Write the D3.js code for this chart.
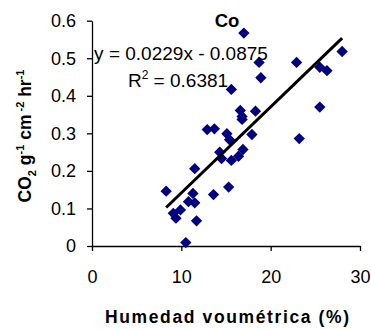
<!DOCTYPE html>
<html>
<head>
<meta charset="utf-8">
<script src="https://cdn.jsdelivr.net/npm/d3@7"></script>
<style>
  body { margin: 0; background: #fff; }
  text { font-family: Arial, "Liberation Sans", sans-serif; }
</style>
</head>
<body>
<div id="chart"></div>
<script>
// soil moisture (%) and CO2 flux
const humedad = [8.3, 9.1, 9.4, 9.9, 10.5, 10.8, 11.3, 11.5, 11.5, 11.7,
  12.9, 13.6, 13.7, 14.3, 14.5, 15.1, 15.3, 15.4, 15.6, 15.6,
  16.4, 16.6, 16.8, 16.8, 16.9, 17.0, 17.9, 18.3, 18.7, 18.9,
  22.9, 23.2, 25.5, 25.5, 26.3, 28.0];
const co2 = [0.146, 0.087, 0.074, 0.096, 0.009, 0.118, 0.140, 0.115, 0.206, 0.067,
  0.310, 0.137, 0.312, 0.250, 0.233, 0.299, 0.157, 0.283, 0.417, 0.228,
  0.239, 0.361, 0.345, 0.337, 0.257, 0.567, 0.297, 0.359, 0.489, 0.448,
  0.489, 0.286, 0.476, 0.370, 0.467, 0.518];
const xTicks = [0, 10, 20, 30];
const yTicks = [0, 0.1, 0.2, 0.3, 0.4, 0.5, 0.6];
// linear fit shown on the chart
const slope = 0.0229;
const intercept = -0.0875;

const width = 371, height = 329;

const svg = d3.select("#chart").append("svg")
  .attr("width", width)
  .attr("height", height)
  .style("background", "#fff");

const x = d3.scaleLinear().domain([0, 30]).range([92, 360]);
const y = d3.scaleLinear().domain([0, 0.6]).range([246, 20.7]);

// x axis
const xAxis = svg.append("g")
  .attr("transform", `translate(0,${y(0)})`)
  .call(d3.axisBottom(x).tickValues(xTicks).tickSize(5).tickPadding(19).tickSizeOuter(0));
// y axis
const yAxis = svg.append("g")
  .attr("transform", `translate(${x(0)},0)`)
  .call(d3.axisLeft(y).tickValues(yTicks).tickSize(5).tickPadding(11).tickSizeOuter(0)
    .tickFormat(d => d === 0 ? "0" : d3.format(".1f")(d)));

[xAxis, yAxis].forEach(g => {
  g.select(".domain").attr("stroke", "#000").attr("stroke-width", 1.3);
  g.selectAll(".tick line").attr("stroke", "#000").attr("stroke-width", 1.3);
  g.selectAll(".tick text").attr("font-size", 18).attr("fill", "#000")
    .attr("font-family", "Arial, 'Liberation Sans', sans-serif");
});

// points
const pts = humedad.map((h, i) => ({h: h, c: co2[i]}));
svg.append("g").selectAll("path")
  .data(pts)
  .enter().append("path")
  .attr("d", d3.symbol(d3.symbolSquare, 64))
  .attr("transform", d => `translate(${x(d.h)},${y(d.c)}) rotate(45)`)
  .attr("fill", "#000080");

// trendline over the data range
const xMin = d3.min(humedad), xMax = d3.max(humedad);
svg.append("line")
  .attr("x1", x(xMin)).attr("y1", y(slope * xMin + intercept))
  .attr("x2", x(xMax)).attr("y2", y(slope * xMax + intercept))
  .attr("stroke", "#000")
  .attr("stroke-width", 3);

// title
svg.append("text")
  .attr("x", 227).attr("y", 27)
  .attr("text-anchor", "middle")
  .attr("font-size", 18.5).attr("font-weight", "bold")
  .text("Co");

// equation
svg.append("text")
  .attr("x", 181).attr("y", 60)
  .attr("text-anchor", "middle")
  .attr("font-size", 19)
  .text(`y = ${slope}x - ${Math.abs(intercept)}`);

const r2 = svg.append("text")
  .attr("x", 178).attr("y", 87)
  .attr("text-anchor", "middle")
  .attr("font-size", 19);
r2.append("tspan").text("R");
r2.append("tspan").attr("dy", -8).attr("font-size", 12).text("2");
r2.append("tspan").attr("dy", 8).text(" = 0.6381");

// axis titles
svg.append("text")
  .attr("x", 227).attr("y", 323)
  .attr("text-anchor", "middle")
  .attr("font-size", 17.5).attr("font-weight", "bold")
  .attr("textLength", 244).attr("lengthAdjust", "spacing")
  .text("Humedad voumétrica (%)");

const yt = svg.append("text")
  .attr("transform", "translate(31,136) rotate(-90)")
  .attr("text-anchor", "middle")
  .attr("font-size", 17.5).attr("font-weight", "bold");
yt.append("tspan").text("CO");
yt.append("tspan").attr("dy", 5).attr("font-size", 11).text("2");
yt.append("tspan").attr("dy", -5).text(" g");
yt.append("tspan").attr("dy", -7).attr("font-size", 11).text("-1");
yt.append("tspan").attr("dy", 7).text(" cm");
yt.append("tspan").attr("dy", -7).attr("font-size", 11).text(" -2");
yt.append("tspan").attr("dy", 7).text(" hr");
yt.append("tspan").attr("dy", -7).attr("font-size", 11).text("-1");
</script>
</body>
</html>
